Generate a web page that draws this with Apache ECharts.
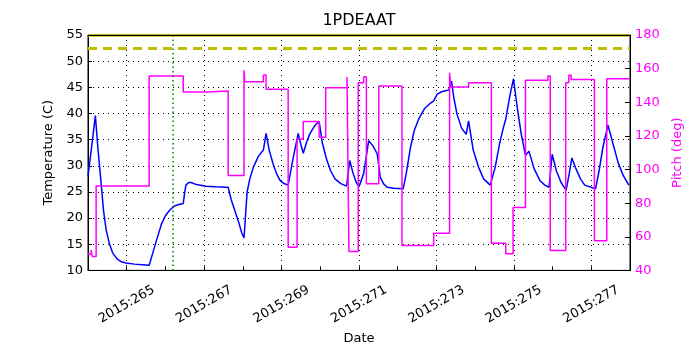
<!DOCTYPE html>
<html>
<head>
<meta charset="utf-8">
<script src="https://cdn.jsdelivr.net/npm/echarts@6/dist/echarts.min.js"></script>
<style>
	html, body { margin: 0; padding: 0; background: #fff; }
	#chart { width: 700px; height: 350px; }
</style>
</head>
<body>
<div id="chart"></div>
<script>
// temperature (left axis), day of year 2015
var tempDays = [
	264.00, 264.10, 264.19, 264.26, 264.34, 264.40, 264.47, 264.55, 264.64, 264.75,
	264.85, 264.98, 265.20, 265.40, 265.58, 265.68, 265.80, 265.90, 266.01, 266.12,
	266.23, 266.35, 266.46, 266.50, 266.53, 266.60, 266.66, 266.80, 267.05, 267.30,
	267.56, 267.62, 267.70, 267.79, 267.90, 267.97, 268.03, 268.11, 268.18, 268.27,
	268.40, 268.53, 268.60, 268.68, 268.78, 268.87, 268.96, 269.06, 269.17, 269.30,
	269.43, 269.50, 269.56, 269.65, 269.73, 269.85, 269.97, 270.05, 270.16, 270.27,
	270.38, 270.53, 270.68, 270.76, 270.85, 270.93, 271.00, 271.12, 271.25, 271.36,
	271.47, 271.55, 271.64, 271.73, 271.90, 272.14, 272.22, 272.33, 272.43, 272.54,
	272.70, 272.85, 272.93, 273.02, 273.15, 273.32, 273.39, 273.45, 273.53, 273.65,
	273.77, 273.83, 273.95, 274.09, 274.22, 274.39, 274.42, 274.52, 274.63, 274.72,
	274.79, 274.90, 274.99, 275.09, 275.19, 275.30, 275.39, 275.52, 275.67, 275.80,
	275.91, 275.99, 276.10, 276.22, 276.35, 276.43, 276.50, 276.60, 276.72, 276.83,
	277.11, 277.20, 277.30, 277.43, 277.55, 277.69, 277.82, 277.97
];
var tempValues = [
	28.0, 34.0, 39.6, 33.0, 26.6, 21.5, 17.7, 15.2, 13.3, 12.2,
	11.7, 11.4, 11.2, 11.1, 11.0, 13.5, 16.5, 18.9, 20.6, 21.6,
	22.3, 22.6, 22.8, 25.0, 26.3, 26.8, 26.8, 26.4, 26.1, 26.0,
	25.9, 25.9, 23.5, 21.5, 19.0, 17.2, 16.2, 25.0, 27.5, 29.7,
	31.8, 33.0, 36.2, 33.0, 30.4, 28.5, 27.2, 26.6, 26.3, 31.5,
	36.2, 34.0, 32.4, 34.6, 36.1, 37.6, 38.5, 34.5, 31.3, 29.0,
	27.5, 26.6, 26.1, 31.0, 28.5, 26.8, 26.0, 28.5, 34.8, 33.8,
	32.3, 27.8, 26.5, 25.9, 25.7, 25.6, 28.5, 33.5, 36.8, 38.9,
	41.0, 42.0, 42.4, 43.7, 44.2, 44.5, 46.2, 43.0, 39.9, 37.2,
	36.0, 38.6, 33.0, 29.7, 27.5, 26.3, 26.1, 29.8, 34.2, 37.0,
	38.9, 43.5, 46.6, 41.0, 36.1, 32.0, 32.8, 29.5, 27.2, 26.3,
	25.9, 32.2, 29.0, 26.8, 25.3, 28.5, 31.5, 29.5, 27.5, 26.3,
	25.6, 29.0, 33.5, 37.8, 34.5, 30.7, 28.2, 26.3
];

// pitch (right axis), value holds until the next change
var pitchDays = [
	264.00, 264.08, 264.11, 264.21, 265.58, 266.46, 267.08, 267.62, 268.03, 268.05,
	268.53, 268.60, 269.17, 269.40, 269.56, 269.97, 270.14, 270.69, 270.74, 270.98,
	271.12, 271.19, 271.51, 272.11, 272.93, 273.34, 273.37, 273.83, 274.42, 274.79,
	274.98, 275.30, 275.88, 275.94, 276.34, 276.42, 276.48, 277.08, 277.40, 278.00
];
var pitchValues = [
	49.7, 52.0, 48.3, 90.2, 155.6, 146.1, 146.7, 96.5, 159.0, 152.2,
	156.2, 147.7, 53.8, 118.2, 128.6, 119.2, 148.7, 155.0, 51.2, 151.6,
	155.2, 91.6, 149.7, 54.8, 62.1, 157.5, 149.1, 151.6, 56.2, 49.9,
	77.4, 153.1, 155.6, 51.8, 151.6, 156.0, 153.6, 57.7, 154.0, 154.0
];

var planningLimit = 52.5;
var upperLimit = 55;
var markerDay = 266.2;

var tempData = tempDays.map(function (d, i) { return [d, tempValues[i]]; });
var pitchData = pitchDays.map(function (d, i) { return [d, pitchValues[i]]; });

var font = "DejaVu Sans";
var myChart = echarts.init(document.getElementById("chart"));

var option = {
	backgroundColor: "#fff",
	animation: false,
	title: {
		text: "1PDEAAT",
		left: 359,
		top: 13,
		padding: 0,
		textAlign: "center",
		textStyle: { fontFamily: font, fontSize: 16, fontWeight: "normal", color: "#000" },
	},
	grid: {
		left: 88,
		right: 70,
		top: 35,
		bottom: 78,
		show: true,
		borderColor: "#000",
		borderWidth: 1,
	},
	xAxis: [
		{
			type: "value",
			min: 264,
			max: 278,
			interval: 1,
			name: "Date",
			nameLocation: "middle",
			nameGap: 57,
			nameTextStyle: { fontFamily: font, fontSize: 13, color: "#000" },
			axisLine: { lineStyle: { color: "#000" } },
			axisTick: { inside: true, length: 4, lineStyle: { color: "#000" } },
			axisLabel: {
				rotate: 30,
				align: "center",
				verticalAlign: "middle",
				margin: 34,
				fontFamily: font,
				fontSize: 13,
				color: "#000",
				formatter: function (v) { return v % 2 ? "2015:" + v : ""; },
			},
			splitLine: {
				show: true,
				lineStyle: { color: ["rgba(0,0,0,0)", "#000"], type: [1, 4], width: 1 },
			},
		},
		{
			// top spine drawn over the limit line
			type: "value",
			position: "top",
			min: 264,
			max: 278,
			interval: 1,
			z: 10,
			axisLine: { show: true, lineStyle: { color: "#000", width: 1 } },
			axisTick: { show: false },
			axisLabel: { show: false },
			splitLine: { show: false },
		},
	],
	yAxis: [
		{
			type: "value",
			min: 10,
			max: 55,
			interval: 5,
			name: "Temperature (C)",
			nameLocation: "middle",
			nameGap: 27,
			nameTextStyle: { fontFamily: font, fontSize: 13, color: "#000" },
			axisLine: { show: true, lineStyle: { color: "#000" } },
			axisTick: { show: true, inside: true, length: 4, lineStyle: { color: "#000" } },
			axisLabel: { margin: 5, fontFamily: font, fontSize: 13, color: "#000" },
			splitLine: { show: true, lineStyle: { color: "#000", type: [1, 4], width: 1 } },
		},
		{
			type: "value",
			position: "right",
			min: 40,
			max: 180,
			interval: 20,
			name: "Pitch (deg)",
			nameLocation: "middle",
			nameGap: 32,
			nameRotate: 90,
			nameTextStyle: { fontFamily: font, fontSize: 13, color: "#ff00ff" },
			axisLine: { show: true, lineStyle: { color: "#000" } },
			axisTick: { show: true, inside: true, length: 5, lineStyle: { color: "#000" } },
			axisLabel: { margin: 5, fontFamily: font, fontSize: 13, color: "#ff00ff" },
			splitLine: { show: false },
		},
	],
	series: [
		{
			name: "1PDEAAT",
			type: "line",
			yAxisIndex: 0,
			data: tempData,
			showSymbol: false,
			lineStyle: { color: "#0000ff", width: 1.5 },
			markLine: {
				silent: true,
				symbol: "none",
				label: { show: false },
				data: [
					{ yAxis: planningLimit, lineStyle: { color: "#bfbf00", width: 3, type: [9, 6] } },
					{ yAxis: upperLimit, lineStyle: { color: "#bfbf00", width: 2.5, type: "solid" } },
					{ xAxis: markerDay, lineStyle: { color: "#008000", width: 1.5, type: [1.5, 3] } },
				],
			},
		},
		{
			name: "Pitch",
			type: "line",
			yAxisIndex: 1,
			step: "end",
			data: pitchData,
			showSymbol: false,
			lineStyle: { color: "#ff00ff", width: 1.5 },
		},
	],
};

myChart.setOption(option);
</script>
</body>
</html>
